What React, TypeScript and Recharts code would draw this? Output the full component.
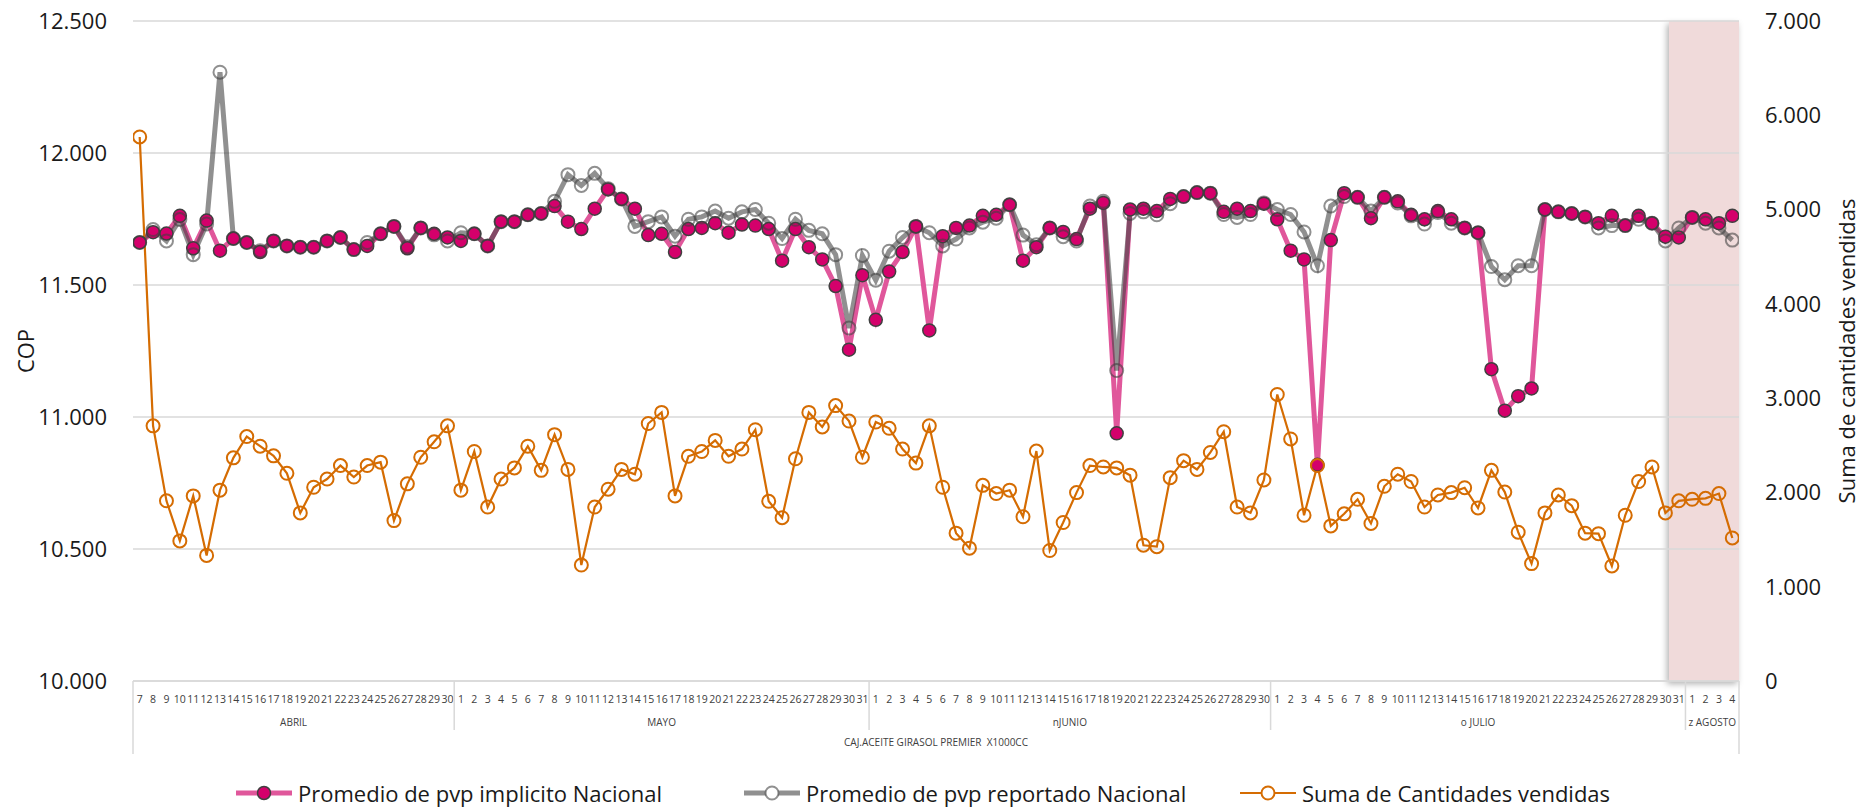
import React from "react"
import { LineChart, Line, XAxis, YAxis, CartesianGrid, ReferenceArea } from "recharts"

// categories: days per month (as shown on the axis)
const months = ["ABRIL", "MAYO", "nJUNIO", "o JULIO", "z AGOSTO"]
const aprilDays = [7, 8, 9, 10, 11, 12, 13, 14, 15, 16, 17, 18, 19, 20, 21, 22, 23, 24, 25, 26, 27, 28, 29, 30]
const mayDays = [1, 2, 3, 4, 5, 6, 7, 8, 9, 10, 11, 12, 13, 14, 15, 16, 17, 18, 19, 20, 21, 22, 23, 24, 25, 26, 27, 28, 29, 30, 31]
const juneDays = [1, 2, 3, 4, 5, 6, 7, 8, 9, 10, 11, 12, 13, 14, 15, 16, 17, 18, 19, 20, 21, 22, 23, 24, 25, 26, 27, 28, 29, 30]
const julyDays = [1, 2, 3, 4, 5, 6, 7, 8, 9, 10, 11, 12, 13, 14, 15, 16, 17, 18, 19, 20, 21, 22, 23, 24, 25, 26, 27, 28, 29, 30, 31]
const augustDays = [1, 2, 3, 4]
const productLabel = "CAJ.ACEITE GIRASOL PREMIER  X1000CC"

// Promedio de pvp implicito Nacional
const pvpImplicito = [
  11661, 11700, 11695, 11762, 11639, 11744, 11630, 11676, 11661, 11625, 11667, 11648, 11643, 11643, 11667, 11680, 11634, 11648, 11694, 11722, 11639, 11716, 11694, 11680,
  11667, 11694, 11648, 11740, 11740, 11766, 11771, 11799, 11740, 11712, 11789, 11862, 11826, 11789, 11689, 11694, 11625, 11712, 11716, 11734, 11698, 11729, 11725, 11712, 11592, 11712, 11643, 11597, 11496, 11255, 11537,
  11368, 11551, 11625, 11722, 11328, 11685, 11716, 11725, 11762, 11766, 11804, 11592, 11643, 11716, 11701, 11674, 11789, 11811, 10938, 11786, 11789, 11780, 11826, 11835, 11850, 11848, 11777, 11789, 11780, 11808,
  11749, 11630, 11597, 10819, 11670, 11848, 11832, 11753, 11832, 11817, 11766, 11749, 11780, 11749, 11716, 11698, 11181, 11024, 11079, 11108, 11786, 11777, 11771, 11758, 11734, 11762, 11725, 11762, 11734, 11683, 11680,
  11756, 11749, 11734, 11762,
]

// Promedio de pvp reportado Nacional
const pvpReportado = [
  11661, 11710, 11667, 11748, 11615, 11731, 12306, 11676, 11661, 11630, 11667, 11648, 11643, 11643, 11667, 11680, 11634, 11661, 11694, 11722, 11645, 11716, 11690, 11667,
  11698, 11694, 11648, 11740, 11740, 11766, 11771, 11817, 11918, 11877, 11923, 11865, 11826, 11722, 11740, 11758, 11685, 11749, 11758, 11780, 11753, 11777, 11786, 11734, 11676, 11749, 11707, 11694, 11615, 11337, 11612,
  11518, 11628, 11680, 11722, 11698, 11648, 11674, 11716, 11738, 11753, 11804, 11689, 11652, 11716, 11683, 11667, 11799, 11817, 11176, 11771, 11777, 11766, 11808, 11835, 11850, 11848, 11767, 11756, 11767, 11811,
  11786, 11767, 11701, 11573, 11799, 11835, 11832, 11780, 11832, 11811, 11762, 11731, 11775, 11734, 11716, 11698, 11570, 11520, 11573, 11573, 11786, 11777, 11771, 11758, 11716, 11725, 11725, 11749, 11734, 11667, 11716,
  11756, 11734, 11716, 11670,
]

// Suma de Cantidades vendidas
const cantidades = [
  5770, 2706, 1911, 1486, 1963, 1332, 2024, 2367, 2593, 2490, 2388, 2203, 1783, 2055, 2142, 2285, 2163, 2285, 2321, 1701, 2091, 2373, 2537, 2706,
  2024, 2434, 1845, 2142, 2260, 2490, 2234, 2613, 2244, 1230, 1845, 2034, 2244, 2193, 2731, 2849, 1963, 2383, 2434, 2552, 2383, 2460, 2665, 1906, 1732, 2357, 2849, 2695, 2921, 2757, 2373,
  2747, 2680, 2460, 2311, 2706, 2055, 1568, 1409, 2075, 1988, 2024, 1742, 2439, 1384, 1681, 1998, 2285, 2270, 2260, 2183, 1440, 1425, 2157, 2337, 2244, 2424, 2644, 1845, 1783, 2132,
  3039, 2567, 1758, 2285, 1645, 1773, 1927, 1671, 2065, 2193, 2116, 1845, 1973, 1998, 2050, 1835, 2234, 2004, 1578, 1245, 1783, 1973, 1860, 1568, 1563, 1220, 1758, 2116, 2270, 1783, 1911,
  1927, 1937, 1988, 1517,
]

const leftTicks = [10000, 10500, 11000, 11500, 12000, 12500]
const rightTicks = [0, 1000, 2000, 3000, 4000, 5000, 6000, 7000]

const monthDays = [aprilDays, mayDays, juneDays, julyDays, augustDays]

const rows: any[] = []
monthDays.forEach((days, m) => {
  days.forEach((day, k) => {
    const i = rows.length
    rows.push({
      i,
      day,
      month: m,
      first: k === 0,
      monthLen: days.length,
      implicito: pvpImplicito[i],
      reportado: pvpReportado[i],
      cantidad: cantidades[i],
    })
  })
})

const W = 1865
const H = 807
const LEFT_W = 133
const RIGHT_W = 126
const AXIS_H = 126
const TOP = 21
const PLOT_W = W - LEFT_W - RIGHT_W

const FONT = "'Open Sans', 'Noto Sans', sans-serif"
const PINK = "#E0579B"
const PINK_DOT = "#D4006B"
const GRAY = "#404040"
const ORANGE = "#D56C02"
const GRID = "#D9D9D9"

const fmt = (v: number) => String(v).replace(/\B(?=(\d{3})+(?!\d))/g, ".")

function DayTick(props: any) {
  const { x, y, payload } = props
  const row = rows[payload.value]
  if (!row) return null
  const step = PLOT_W / rows.length
  const last = row.i === rows.length - 1
  return (
    <g>
      <text x={x} y={y + 22} textAnchor="middle" fontSize={10.5} fill="#404040" fontFamily={FONT}>
        {row.day}
      </text>
      {row.first && (
        <line x1={x - step / 2} x2={x - step / 2} y1={y} y2={y + (row.i === 0 ? 73 : 49)} stroke={GRID} strokeWidth={1.5} />
      )}
      {last && <line x1={x + step / 2} x2={x + step / 2} y1={y} y2={y + 73} stroke={GRID} strokeWidth={1.5} />}
      {row.first && (
        <text x={x + ((row.monthLen - 1) / 2) * step} y={y + 45} textAnchor="middle" fontSize={10} fill="#404040" fontFamily={FONT}>
          {months[row.month]}
        </text>
      )}
      {row.i === rows.length / 2 && (
        <text x={x - step / 2} y={y + 65} textAnchor="middle" fontSize={10} fill="#404040" fontFamily={FONT} style={{ whiteSpace: "pre" }}>
          {productLabel}
        </text>
      )}
    </g>
  )
}

function LegendIcon({ color, width, dotFill, dotStroke, dotStrokeWidth, strokeOpacity }: any) {
  return (
    <svg width={56} height={20} style={{ display: "block" }}>
      <line x1={0} x2={56} y1={10} y2={10} stroke={color} strokeWidth={width} strokeOpacity={strokeOpacity} />
      <circle cx={28} cy={10} r={6.5} fill={dotFill} stroke={dotStroke} strokeWidth={dotStrokeWidth} strokeOpacity={strokeOpacity} />
    </svg>
  )
}

const legendItems = [
  { left: 236, label: "Promedio de pvp implicito Nacional", icon: { color: PINK, width: 5, dotFill: PINK_DOT, dotStroke: GRAY, dotStrokeWidth: 1.5 } },
  { left: 744, label: "Promedio de pvp reportado Nacional", icon: { color: GRAY, width: 5, dotFill: "#fff", dotStroke: GRAY, dotStrokeWidth: 2, strokeOpacity: 0.58 } },
  { left: 1240, label: "Suma de Cantidades vendidas", icon: { color: ORANGE, width: 2.2, dotFill: "#fff", dotStroke: ORANGE, dotStrokeWidth: 2 } },
]

export default function App() {
  return (
    <div style={{ position: "relative", width: W, height: H, fontFamily: FONT, background: "#fff" }}>
      <style>{`body{margin:0}`}</style>
      <LineChart width={W} height={H} data={rows} margin={{ top: TOP, right: 0, bottom: 0, left: 0 }}>
        <defs>
          <filter id="areaShadow" x="-20%" y="-5%" width="140%" height="110%">
            <feDropShadow dx={-2} dy={3} stdDeviation={3} floodColor="#000" floodOpacity={0.3} />
          </filter>
        </defs>
        <ReferenceArea
          yAxisId="left"
          x1={114.27}
          x2={rows.length - 0.5}
          y1={10000}
          y2={12500}
          ifOverflow="visible"
          zIndex={-150}
          shape={(p: any) => (
            <rect x={p.x} y={p.y} width={p.width} height={p.height} fill="#F0DADA" filter="url(#areaShadow)" />
          )}
        />
        <CartesianGrid yAxisId="left" vertical={false} stroke={GRID} strokeWidth={1.5} />
        <XAxis
          dataKey="i"
          type="number"
          domain={[-0.5, rows.length - 0.5]}
          ticks={rows.map((r) => r.i)}
          interval={0}
          allowDataOverflow
          height={AXIS_H}
          tickSize={0}
          tickMargin={0}
          tickLine={false}
          axisLine={{ stroke: GRID, strokeWidth: 1.5 }}
          tick={(p: any) => <DayTick {...p} />}
        />
        <YAxis
          yAxisId="left"
          domain={[10000, 12500]}
          ticks={leftTicks}
          width={LEFT_W}
          axisLine={false}
          tickLine={false}
          tickSize={0}
          tickMargin={26}
          tickFormatter={fmt}
          tick={{ fontSize: 22, fill: "#1a1a1a", fontFamily: FONT }}
          label={{
            content: ({ viewBox }: any) => {
              const cx = viewBox.x + 25
              const cy = viewBox.y + viewBox.height / 2
              return (
                <text x={cx} y={cy} transform={`rotate(-90, ${cx}, ${cy})`} textAnchor="middle" dominantBaseline="central" fontSize={22} fill="#1a1a1a" fontFamily={FONT}>
                  COP
                </text>
              )
            },
          }}
        />
        <YAxis
          yAxisId="right"
          orientation="right"
          domain={[0, 7000]}
          ticks={rightTicks}
          width={RIGHT_W}
          axisLine={false}
          tickLine={false}
          tickSize={0}
          tickMargin={26}
          tickFormatter={fmt}
          tick={{ fontSize: 22, fill: "#1a1a1a", fontFamily: FONT }}
          label={{
            content: ({ viewBox }: any) => {
              const cx = viewBox.x + 107
              const cy = viewBox.y + viewBox.height / 2
              return (
                <text x={cx} y={cy} transform={`rotate(-90, ${cx}, ${cy})`} textAnchor="middle" dominantBaseline="central" fontSize={22} fill="#1a1a1a" fontFamily={FONT}>
                  Suma de cantidades vendidas
                </text>
              )
            },
          }}
        />
        <Line
          yAxisId="left"
          dataKey="implicito"
          type="linear"
          stroke={PINK}
          strokeWidth={5}
          dot={{ r: 6.5, fill: PINK_DOT, stroke: GRAY, strokeWidth: 1.5, fillOpacity: 1 }}
          activeDot={false}
          isAnimationActive={false}
        />
        <Line
          yAxisId="left"
          dataKey="reportado"
          type="linear"
          stroke={GRAY}
          strokeOpacity={0.58}
          strokeWidth={5}
          dot={{ r: 6.5, fill: "none", stroke: GRAY, strokeOpacity: 0.58, strokeWidth: 2 }}
          activeDot={false}
          isAnimationActive={false}
        />
        <Line
          yAxisId="right"
          dataKey="cantidad"
          type="linear"
          stroke={ORANGE}
          strokeWidth={2.2}
          dot={{ r: 6.5, fill: "none", stroke: ORANGE, strokeWidth: 2 }}
          activeDot={false}
          isAnimationActive={false}
        />
      </LineChart>
      {legendItems.map((it) => (
        <div
          key={it.label}
          style={{ position: "absolute", left: it.left, top: 778, height: 30, display: "flex", alignItems: "center", whiteSpace: "nowrap" }}
        >
          <LegendIcon {...it.icon} />
          <span style={{ fontSize: 22, color: "#1a1a1a", marginLeft: 6, lineHeight: "30px" }}>{it.label}</span>
        </div>
      ))}
    </div>
  )
}
